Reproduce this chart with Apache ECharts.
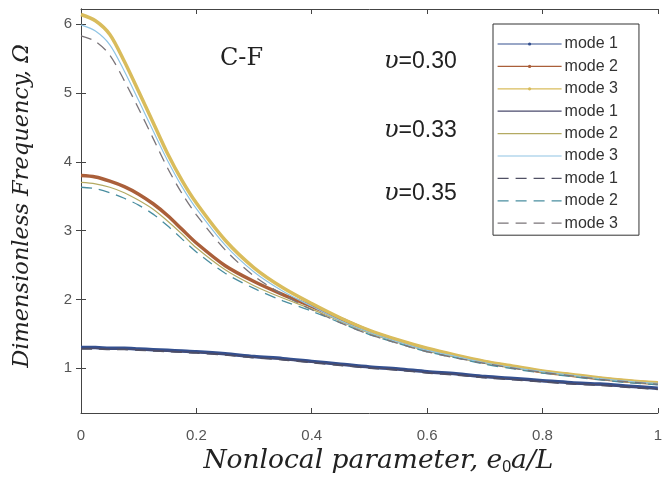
<!DOCTYPE html>
<html><head><meta charset="utf-8">
<script src="https://cdn.jsdelivr.net/npm/echarts@6/dist/echarts.min.js"></script>
<style>html,body{margin:0;padding:0;background:#fff}#c{width:665px;height:483px}</style>
</head><body><div id="c"></div>
<script>
const xVals = [0, 0.025, 0.05, 0.075, 0.1, 0.125, 0.15, 0.175, 0.2, 0.25, 0.3, 0.35, 0.4, 0.45, 0.5, 0.55, 0.6, 0.65, 0.7, 0.75, 0.8, 0.85, 0.9, 0.95, 1.0];
const xTicks = [0, 0.2, 0.4, 0.6, 0.8, 1];
const yTicks = [1, 2, 3, 4, 5, 6];
// v = 0.30
const m1_030 = [1.30, 1.30, 1.29, 1.29, 1.28, 1.27, 1.26, 1.25, 1.24, 1.21, 1.17, 1.14, 1.10, 1.06, 1.02, 0.99, 0.95, 0.92, 0.88, 0.85, 0.82, 0.79, 0.77, 0.74, 0.71];
const m2_030 = [3.80, 3.78, 3.72, 3.64, 3.53, 3.39, 3.22, 3.02, 2.82, 2.49, 2.26, 2.07, 1.90, 1.72, 1.54, 1.40, 1.28, 1.18, 1.09, 1.02, 0.95, 0.90, 0.85, 0.81, 0.78];
const m3_030 = [6.14, 6.05, 5.85, 5.46, 5.02, 4.57, 4.12, 3.73, 3.40, 2.86, 2.46, 2.17, 1.94, 1.73, 1.55, 1.41, 1.29, 1.19, 1.10, 1.03, 0.96, 0.91, 0.86, 0.82, 0.79];
// v = 0.33
const m1_033 = [1.29, 1.29, 1.28, 1.28, 1.27, 1.26, 1.25, 1.24, 1.23, 1.20, 1.16, 1.13, 1.09, 1.05, 1.01, 0.98, 0.94, 0.91, 0.87, 0.84, 0.81, 0.78, 0.76, 0.73, 0.70];
const m2_033 = [3.70, 3.68, 3.63, 3.55, 3.44, 3.31, 3.14, 2.95, 2.75, 2.43, 2.20, 2.02, 1.86, 1.68, 1.51, 1.37, 1.25, 1.16, 1.07, 1.00, 0.94, 0.89, 0.84, 0.80, 0.77];
const m3_033 = [5.99, 5.90, 5.70, 5.32, 4.89, 4.45, 4.02, 3.64, 3.32, 2.79, 2.40, 2.12, 1.90, 1.69, 1.52, 1.38, 1.26, 1.17, 1.08, 1.01, 0.95, 0.90, 0.85, 0.81, 0.78];
// v = 0.35
const m1_035 = [1.28, 1.28, 1.27, 1.27, 1.26, 1.25, 1.24, 1.23, 1.22, 1.19, 1.15, 1.12, 1.08, 1.04, 1.00, 0.97, 0.93, 0.90, 0.86, 0.83, 0.80, 0.77, 0.75, 0.72, 0.69];
const m2_035 = [3.63, 3.61, 3.55, 3.47, 3.37, 3.24, 3.07, 2.88, 2.69, 2.38, 2.16, 1.98, 1.83, 1.66, 1.49, 1.36, 1.24, 1.15, 1.06, 0.99, 0.93, 0.88, 0.83, 0.79, 0.76];
const m3_035 = [5.83, 5.75, 5.55, 5.18, 4.77, 4.34, 3.91, 3.54, 3.23, 2.72, 2.34, 2.07, 1.85, 1.66, 1.49, 1.36, 1.24, 1.15, 1.07, 1.00, 0.94, 0.89, 0.84, 0.80, 0.77];
const legendNames = ['mode 1', 'mode 2', 'mode 3', 'mode 1 ', 'mode 2 ', 'mode 3 ', 'mode 1  ', 'mode 2  ', 'mode 3  '];
const annText = ['C-F', '=0.30', '=0.33', '=0.35'];

const pair = arr => xVals.map((x, i) => [x, arr[i]]);
function ser(name, arr, color, width, dashed, marker) {
  return {
    name, type: 'line', smooth: 0.3, data: pair(arr),
    symbol: marker ? 'circle' : 'none', symbolSize: 3, showSymbol: false,
    lineStyle: { color, width, type: dashed ? [11, 7] : 'solid' },
    itemStyle: { color }, z: dashed ? 4 : (width > 2 ? 2 : 3)
  };
}
const series = [
  ser(legendNames[0], m1_030, '#34508f', 3.5, false, true),
  ser(legendNames[1], m2_030, '#aa5f3a', 3.5, false, true),
  ser(legendNames[2], m3_030, '#d9bc5c', 3.5, false, true),
  ser(legendNames[3], m1_033, '#4a4a6c', 1.2, false, false),
  ser(legendNames[4], m2_033, '#b4aa62', 1.2, false, false),
  ser(legendNames[5], m3_033, '#8fc4e4', 1.2, false, false),
  ser(legendNames[6], m1_035, '#505064', 1.3, true, false),
  ser(legendNames[7], m2_035, '#4a8ea0', 1.3, true, false),
  ser(legendNames[8], m3_035, '#7a7478', 1.3, true, false)
];

const legendData = legendNames.map((n, i) => ({ name: n, itemStyle: { opacity: i < 3 ? 1 : 0 } }));
const annRich = { g: { fontFamily: 'DejaVu Serif', fontStyle: 'italic', fontSize: 24, fill: '#222' }, n: { fontFamily: 'Liberation Sans', fontSize: 23, fill: '#222' } };

const chart = echarts.init(document.getElementById('c'), null, { renderer: 'canvas' });
chart.setOption({
  animation: false,
  backgroundColor: '#fff',
  grid: { left: 81, right: 0, top: 9, bottom: 70 },
  xAxis: [{
    type: 'value', min: 0, max: 1, interval: 0.2, position: 'bottom',
    axisLine: { show: true, lineStyle: { color: '#444', width: 1 } },
    axisTick: { show: true, inside: true, length: 5, lineStyle: { color: '#444' } },
    axisLabel: { margin: 15, color: '#555', fontSize: 15, fontFamily: 'Liberation Sans, Arial, sans-serif',
      formatter: v => String(Math.round(v * 10) / 10) },
    splitLine: { show: false },
    name: 'Nonlocal parameter, e{sub|0}a/L', nameLocation: 'middle', nameGap: 28,
    nameTextStyle: { fontFamily: 'DejaVu Serif', fontStyle: 'italic', fontSize: 26.5, color: '#222', padding: [0, 0, 0, 18],
      rich: { sub: { fontFamily: 'Liberation Sans', fontStyle: 'normal', fontSize: 16, verticalAlign: 'bottom', padding: [12, 0, 0, 0], color: '#222' } } }
  }, {
    type: 'value', min: 0, max: 1, interval: 0.2, position: 'top',
    axisLine: { show: true, lineStyle: { color: '#444', width: 1 } },
    axisTick: { show: true, inside: true, length: 5, lineStyle: { color: '#444' } },
    axisLabel: { show: false }, splitLine: { show: false }
  }],
  yAxis: [{
    type: 'value', min: 0.35, max: 6.22, position: 'left',
    axisLine: { show: true, lineStyle: { color: '#444', width: 1 } },
    axisTick: { show: true, inside: true, length: 5, customValues: yTicks, lineStyle: { color: '#444' } },
    axisLabel: { margin: 9, color: '#555', fontSize: 15, fontFamily: 'Liberation Sans, Arial, sans-serif', customValues: yTicks },
    splitLine: { show: false },
    name: 'Dimensionless Frequency, Ω', nameLocation: 'middle', nameGap: 47, nameRotate: 90,
    nameTextStyle: { fontFamily: 'DejaVu Serif', fontStyle: 'italic', fontSize: 22.5, color: '#222', padding: [0, 0, 0, 10] }
  }, {
    type: 'value', min: 0.35, max: 6.22, position: 'right',
    axisLine: { show: true, lineStyle: { color: '#444', width: 1 } },
    axisTick: { show: true, inside: true, length: 5, customValues: yTicks, lineStyle: { color: '#444' } },
    axisLabel: { show: false }, splitLine: { show: false }
  }],
  legend: {
    orient: 'vertical', left: 493, top: 24,
    padding: [12, 21, 4, 4], itemGap: 6.4, itemWidth: 64, itemHeight: 4,
    backgroundColor: '#fff', borderColor: '#333', borderWidth: 1,
    lineStyle: { width: 1.2 },
    textStyle: { fontSize: 16, lineHeight: 14, height: 14, color: '#333', fontFamily: 'Liberation Sans, Arial, sans-serif', padding: [0, 0, 0, -2] },
    formatter: n => n.trim(),
    data: legendData
  },
  graphic: [
    { type: 'text', left: 220, top: 47, style: { text: annText[0], fontFamily: 'DejaVu Serif', fontSize: 24, fill: '#222' } },
    { type: 'text', left: 384, top: 50, style: { text: '{g|υ}{n|' + annText[1] + '}', rich: annRich } },
    { type: 'text', left: 384, top: 119, style: { text: '{g|υ}{n|' + annText[2] + '}', rich: annRich } },
    { type: 'text', left: 384, top: 182, style: { text: '{g|υ}{n|' + annText[3] + '}', rich: annRich } }
  ],
  series
});
</script></body></html>
